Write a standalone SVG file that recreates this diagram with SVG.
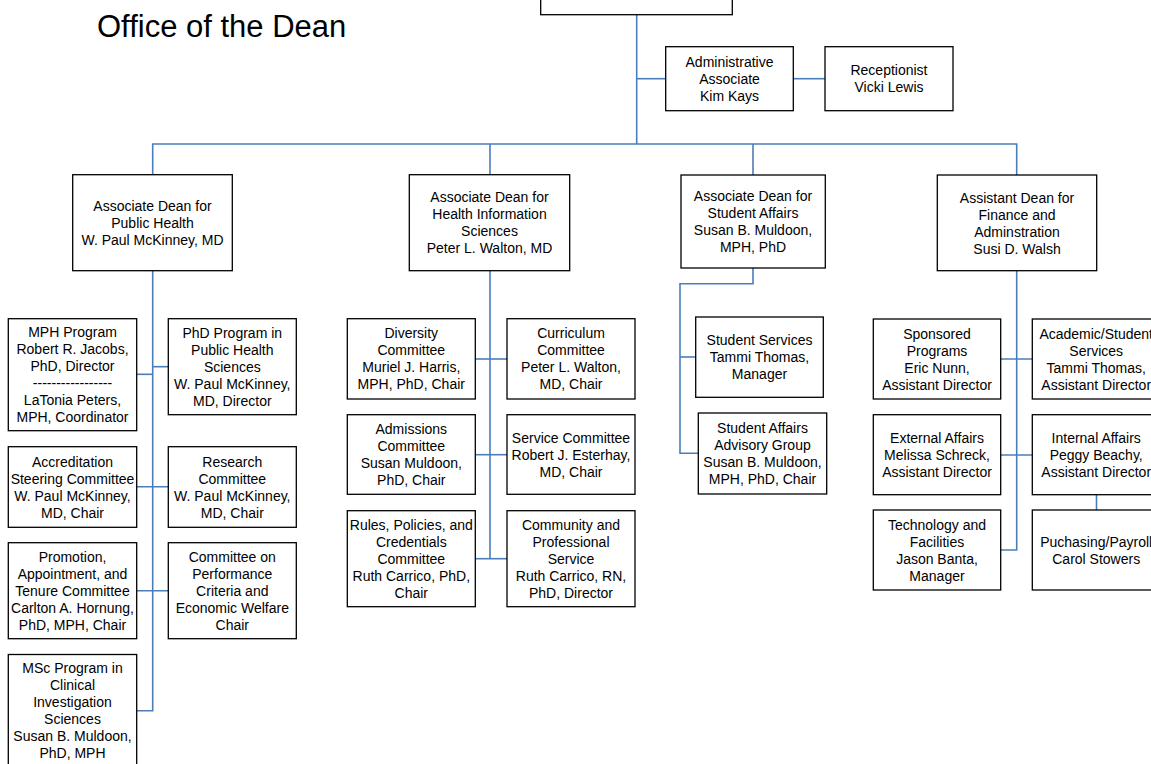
<svg xmlns="http://www.w3.org/2000/svg" width="1151" height="764" viewBox="0 0 1151 764">
  <style>
    .box { fill: #ffffff; stroke: #000000; stroke-width: 1.3; }
    .lbl { font-family: "Liberation Sans", Arial, sans-serif; font-size: 14px; fill: #000000; text-anchor: middle; }
    .title { font-family: "Liberation Sans", Arial, sans-serif; font-size: 31px; fill: #000000; }
    .link { fill: none; stroke: #4a7ebb; stroke-width: 1.6; }
  </style>
  <rect width="1151" height="764" fill="#ffffff"/>

  <text class="title" x="97" y="37">Office of the Dean</text>

  <!-- reporting lines -->
  <g id="connectors" class="link">
    <path d="M636.7 14.7 V144"/>
    <path d="M636.7 78.7 H665.7"/>
    <path d="M793.3 78.7 H825"/>
    <path d="M152.7 174.7 V144 H1016.7 V175"/>
    <path d="M490 144 V174.7"/>
    <path d="M753 144 V175"/>
    <!-- public health -->
    <path d="M152.7 270.7 V710.7 H136.7"/>
    <path d="M136.7 374.3 H152.7"/>
    <path d="M152.7 366.7 H168.3"/>
    <path d="M136.7 486.7 H168.3"/>
    <path d="M136.7 590.7 H168.3"/>
    <!-- health information sciences -->
    <path d="M490 270.7 V558.7"/>
    <path d="M475.3 359 H507"/>
    <path d="M475.3 454.7 H507"/>
    <path d="M475.3 558.7 H507"/>
    <!-- student affairs -->
    <path d="M753 268 V283.7 H680 V453.3 H698.3"/>
    <path d="M680 357 H695.7"/>
    <!-- finance and administration -->
    <path d="M1016.7 270.7 V550 H1000.7"/>
    <path d="M1000.7 359 H1032.3"/>
    <path d="M1000.7 455 H1032.3"/>
    <path d="M1096.5 494.7 V510"/>
  </g>

  <g id="dean">
    <rect class="box" x="540.7" y="-20" width="191.6" height="34.7"/>
  </g>

  <g id="admin-associate">
    <rect class="box" x="665.7" y="46.7" width="127.6" height="64"/>
    <text class="lbl" y="66.7"><tspan x="729.5">Administrative</tspan><tspan x="729.5" dy="17">Associate</tspan><tspan x="729.5" dy="17">Kim Kays</tspan></text>
  </g>

  <g id="receptionist">
    <rect class="box" x="825" y="46.7" width="128" height="64"/>
    <text class="lbl" y="75.2"><tspan x="889">Receptionist</tspan><tspan x="889" dy="17">Vicki Lewis</tspan></text>
  </g>

  <g id="assoc-dean-public-health">
    <rect class="box" x="72.7" y="174.7" width="159.6" height="96"/>
    <text class="lbl" y="210.7"><tspan x="152.5">Associate Dean for</tspan><tspan x="152.5" dy="17">Public Health</tspan><tspan x="152.5" dy="17">W. Paul McKinney, MD</tspan></text>
  </g>

  <g id="assoc-dean-health-info">
    <rect class="box" x="409.3" y="174.7" width="160.4" height="96"/>
    <text class="lbl" y="202.2"><tspan x="489.5">Associate Dean for</tspan><tspan x="489.5" dy="17">Health Information</tspan><tspan x="489.5" dy="17">Sciences</tspan><tspan x="489.5" dy="17">Peter L. Walton, MD</tspan></text>
  </g>

  <g id="assoc-dean-student-affairs">
    <rect class="box" x="681" y="175" width="144.3" height="93"/>
    <text class="lbl" y="201"><tspan x="753">Associate Dean for</tspan><tspan x="753" dy="17">Student Affairs</tspan><tspan x="753" dy="17">Susan B. Muldoon,</tspan><tspan x="753" dy="17">MPH, PhD</tspan></text>
  </g>

  <g id="asst-dean-finance">
    <rect class="box" x="937.3" y="175" width="159.4" height="95.7"/>
    <text class="lbl" y="202.5"><tspan x="1017">Assistant Dean for</tspan><tspan x="1017" dy="17">Finance and</tspan><tspan x="1017" dy="17">Adminstration</tspan><tspan x="1017" dy="17">Susi D. Walsh</tspan></text>
  </g>

  <!-- public health units -->
  <g id="mph-program">
    <rect class="box" x="8.3" y="318.7" width="128.4" height="112"/>
    <text class="lbl" y="337.2"><tspan x="72.5">MPH Program</tspan><tspan x="72.5" dy="17">Robert R. Jacobs,</tspan><tspan x="72.5" dy="17">PhD, Director</tspan><tspan x="72.5" dy="17">-----------------</tspan><tspan x="72.5" dy="17">LaTonia Peters,</tspan><tspan x="72.5" dy="17">MPH, Coordinator</tspan></text>
  </g>

  <g id="phd-program">
    <rect class="box" x="168.3" y="318.7" width="128" height="96"/>
    <text class="lbl" y="337.7"><tspan x="232.3">PhD Program in</tspan><tspan x="232.3" dy="17">Public Health</tspan><tspan x="232.3" dy="17">Sciences</tspan><tspan x="232.3" dy="17">W. Paul McKinney,</tspan><tspan x="232.3" dy="17">MD, Director</tspan></text>
  </g>

  <g id="accreditation">
    <rect class="box" x="8.3" y="446.7" width="128.4" height="80.6"/>
    <text class="lbl" y="466.5"><tspan x="72.5">Accreditation</tspan><tspan x="72.5" dy="17">Steering Committee</tspan><tspan x="72.5" dy="17">W. Paul McKinney,</tspan><tspan x="72.5" dy="17">MD, Chair</tspan></text>
  </g>

  <g id="research">
    <rect class="box" x="168.3" y="446.7" width="128" height="80.6"/>
    <text class="lbl" y="466.5"><tspan x="232.3">Research</tspan><tspan x="232.3" dy="17">Committee</tspan><tspan x="232.3" dy="17">W. Paul McKinney,</tspan><tspan x="232.3" dy="17">MD, Chair</tspan></text>
  </g>

  <g id="promotion-tenure">
    <rect class="box" x="8.3" y="542.7" width="128.4" height="96"/>
    <text class="lbl" y="561.7"><tspan x="72.5">Promotion,</tspan><tspan x="72.5" dy="17">Appointment, and</tspan><tspan x="72.5" dy="17">Tenure Committee</tspan><tspan x="72.5" dy="17">Carlton A. Hornung,</tspan><tspan x="72.5" dy="17">PhD, MPH, Chair</tspan></text>
  </g>

  <g id="performance-criteria">
    <rect class="box" x="168.3" y="542.7" width="128" height="96"/>
    <text class="lbl" y="561.7"><tspan x="232.3">Committee on</tspan><tspan x="232.3" dy="17">Performance</tspan><tspan x="232.3" dy="17">Criteria and</tspan><tspan x="232.3" dy="17">Economic Welfare</tspan><tspan x="232.3" dy="17">Chair</tspan></text>
  </g>

  <g id="msc-program">
    <rect class="box" x="8.3" y="654.5" width="128.4" height="112"/>
    <text class="lbl" y="673"><tspan x="72.5">MSc Program in</tspan><tspan x="72.5" dy="17">Clinical</tspan><tspan x="72.5" dy="17">Investigation</tspan><tspan x="72.5" dy="17">Sciences</tspan><tspan x="72.5" dy="17">Susan B. Muldoon,</tspan><tspan x="72.5" dy="17">PhD, MPH</tspan></text>
  </g>

  <!-- health information sciences committees -->
  <g id="diversity">
    <rect class="box" x="347.3" y="318.7" width="128" height="80.3"/>
    <text class="lbl" y="338.4"><tspan x="411.3">Diversity</tspan><tspan x="411.3" dy="17">Committee</tspan><tspan x="411.3" dy="17">Muriel J. Harris,</tspan><tspan x="411.3" dy="17">MPH, PhD, Chair</tspan></text>
  </g>

  <g id="curriculum">
    <rect class="box" x="507" y="318.7" width="128" height="80.3"/>
    <text class="lbl" y="338.4"><tspan x="571">Curriculum</tspan><tspan x="571" dy="17">Committee</tspan><tspan x="571" dy="17">Peter L. Walton,</tspan><tspan x="571" dy="17">MD, Chair</tspan></text>
  </g>

  <g id="admissions">
    <rect class="box" x="347.3" y="414.7" width="128" height="79.6"/>
    <text class="lbl" y="434"><tspan x="411.3">Admissions</tspan><tspan x="411.3" dy="17">Committee</tspan><tspan x="411.3" dy="17">Susan Muldoon,</tspan><tspan x="411.3" dy="17">PhD, Chair</tspan></text>
  </g>

  <g id="service">
    <rect class="box" x="507" y="414.7" width="128" height="79.6"/>
    <text class="lbl" y="442.5"><tspan x="571">Service Committee</tspan><tspan x="571" dy="17">Robert J. Esterhay,</tspan><tspan x="571" dy="17">MD, Chair</tspan></text>
  </g>

  <g id="rules-policies">
    <rect class="box" x="347.3" y="510.7" width="128" height="96"/>
    <text class="lbl" y="529.7"><tspan x="411.3">Rules, Policies, and</tspan><tspan x="411.3" dy="17">Credentials</tspan><tspan x="411.3" dy="17">Committee</tspan><tspan x="411.3" dy="17">Ruth Carrico, PhD,</tspan><tspan x="411.3" dy="17">Chair</tspan></text>
  </g>

  <g id="community-service">
    <rect class="box" x="507" y="510.7" width="128" height="96"/>
    <text class="lbl" y="529.7"><tspan x="571">Community and</tspan><tspan x="571" dy="17">Professional</tspan><tspan x="571" dy="17">Service</tspan><tspan x="571" dy="17">Ruth Carrico, RN,</tspan><tspan x="571" dy="17">PhD, Director</tspan></text>
  </g>

  <!-- student affairs units -->
  <g id="student-services">
    <rect class="box" x="695.7" y="317" width="127.6" height="80.3"/>
    <text class="lbl" y="345.2"><tspan x="759.5">Student Services</tspan><tspan x="759.5" dy="17">Tammi Thomas,</tspan><tspan x="759.5" dy="17">Manager</tspan></text>
  </g>

  <g id="student-advisory">
    <rect class="box" x="698.3" y="413" width="128.4" height="81"/>
    <text class="lbl" y="433"><tspan x="762.5">Student Affairs</tspan><tspan x="762.5" dy="17">Advisory Group</tspan><tspan x="762.5" dy="17">Susan B. Muldoon,</tspan><tspan x="762.5" dy="17">MPH, PhD, Chair</tspan></text>
  </g>

  <!-- finance and administration units -->
  <g id="sponsored-programs">
    <rect class="box" x="873.3" y="319" width="127.4" height="80"/>
    <text class="lbl" y="338.5"><tspan x="937">Sponsored</tspan><tspan x="937" dy="17">Programs</tspan><tspan x="937" dy="17">Eric Nunn,</tspan><tspan x="937" dy="17">Assistant Director</tspan></text>
  </g>

  <g id="academic-services">
    <rect class="box" x="1032.3" y="319" width="128" height="80"/>
    <text class="lbl" y="338.5"><tspan x="1096.2">Academic/Student</tspan><tspan x="1096.2" dy="17">Services</tspan><tspan x="1096.2" dy="17">Tammi Thomas,</tspan><tspan x="1096.2" dy="17">Assistant Director</tspan></text>
  </g>

  <g id="external-affairs">
    <rect class="box" x="873.3" y="414.7" width="127.4" height="80"/>
    <text class="lbl" y="442.7"><tspan x="937">External Affairs</tspan><tspan x="937" dy="17">Melissa Schreck,</tspan><tspan x="937" dy="17">Assistant Director</tspan></text>
  </g>

  <g id="internal-affairs">
    <rect class="box" x="1032.3" y="414.7" width="128" height="80"/>
    <text class="lbl" y="442.7"><tspan x="1096.2">Internal Affairs</tspan><tspan x="1096.2" dy="17">Peggy Beachy,</tspan><tspan x="1096.2" dy="17">Assistant Director</tspan></text>
  </g>

  <g id="technology-facilities">
    <rect class="box" x="873.3" y="510" width="127.4" height="80"/>
    <text class="lbl" y="529.5"><tspan x="937">Technology and</tspan><tspan x="937" dy="17">Facilities</tspan><tspan x="937" dy="17">Jason Banta,</tspan><tspan x="937" dy="17">Manager</tspan></text>
  </g>

  <g id="purchasing-payroll">
    <rect class="box" x="1032.3" y="510" width="128" height="80"/>
    <text class="lbl" y="546.5"><tspan x="1096.2">Puchasing/Payroll</tspan><tspan x="1096.2" dy="17">Carol Stowers</tspan></text>
  </g>
</svg>
